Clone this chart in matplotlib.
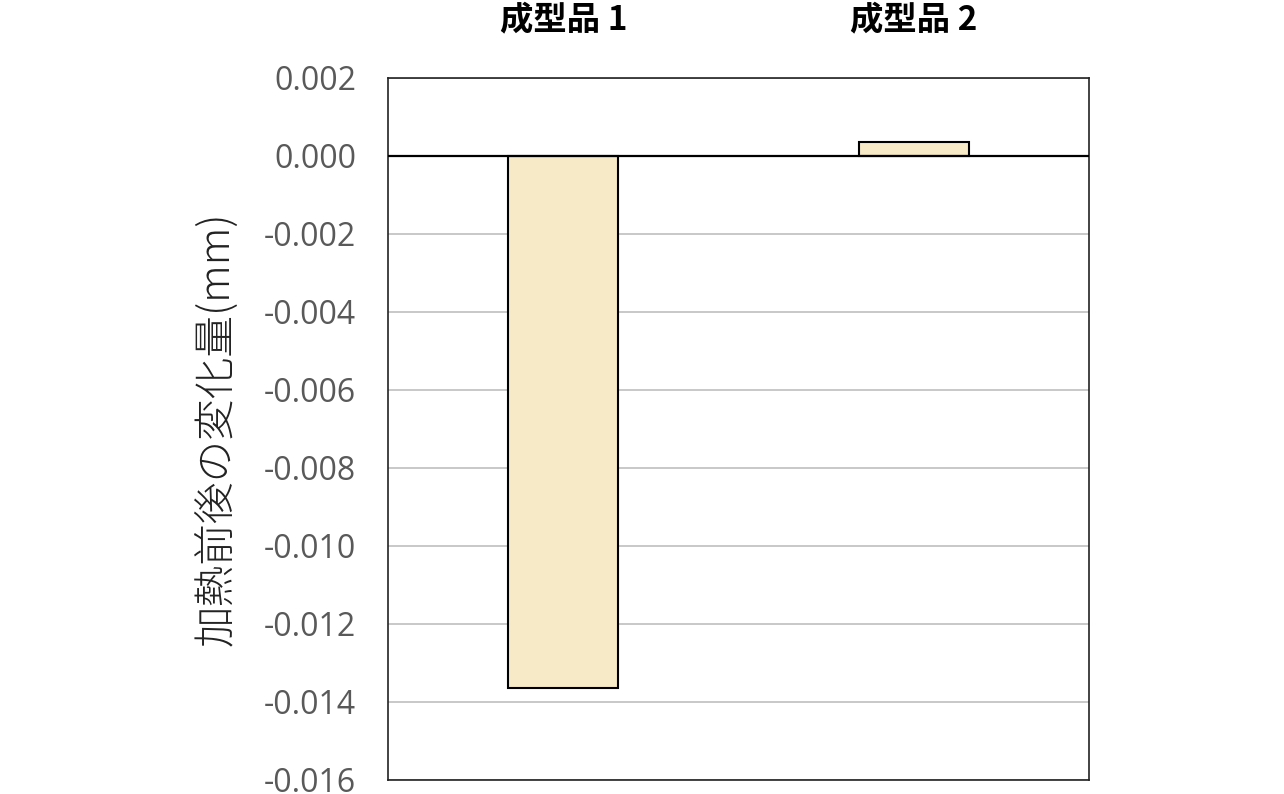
import matplotlib
matplotlib.use("Agg")
import matplotlib.pyplot as plt
import numpy as np

categories = ["成型品 1", "成型品 2"]
values = [-0.01364, 0.00036]
yticks = [0.002, 0.000, -0.002, -0.004, -0.006, -0.008, -0.010, -0.012, -0.014, -0.016]
ylabel = "加熱前後の変化量(mm)"

plt.rcParams['font.family'] = ['Noto Sans CJK JP', 'DejaVu Sans']

fig = plt.figure(figsize=(12.84, 7.94), dpi=100)
ax = fig.add_axes([388/1284, 14/794, 701/1284, 702/794])

x = np.arange(len(categories))
ax.bar(x, values, width=0.314, color='#F7EAC6', edgecolor='black', linewidth=1.5, zorder=3)
ax.set_xlim(-0.5, len(categories) - 0.5)
ax.set_ylim(-0.016, 0.002)
ax.set_yticks(yticks)
ax.set_yticklabels([f"{v:.3f}" for v in yticks], family=['Open Sans', 'DejaVu Sans'], fontsize=23, color='#595959')
ax.yaxis.grid(True, color='#bfbfbf', linewidth=1.2, zorder=0)
ax.axhline(0, color='black', linewidth=1.6, zorder=4)
ax.tick_params(axis='y', length=0, pad=23)

ax.xaxis.tick_top()
ax.set_xticks(x)
ax.set_xticklabels(categories, fontsize=24, fontweight='bold')
ax.tick_params(axis='x', length=0, pad=30)

for s in ax.spines.values():
    s.set_color('#222222')
    s.set_linewidth(1.2)

ax.set_ylabel(ylabel, fontsize=30, fontweight='light', color='#222222', labelpad=18)

fig.savefig("out.png", dpi=100)
